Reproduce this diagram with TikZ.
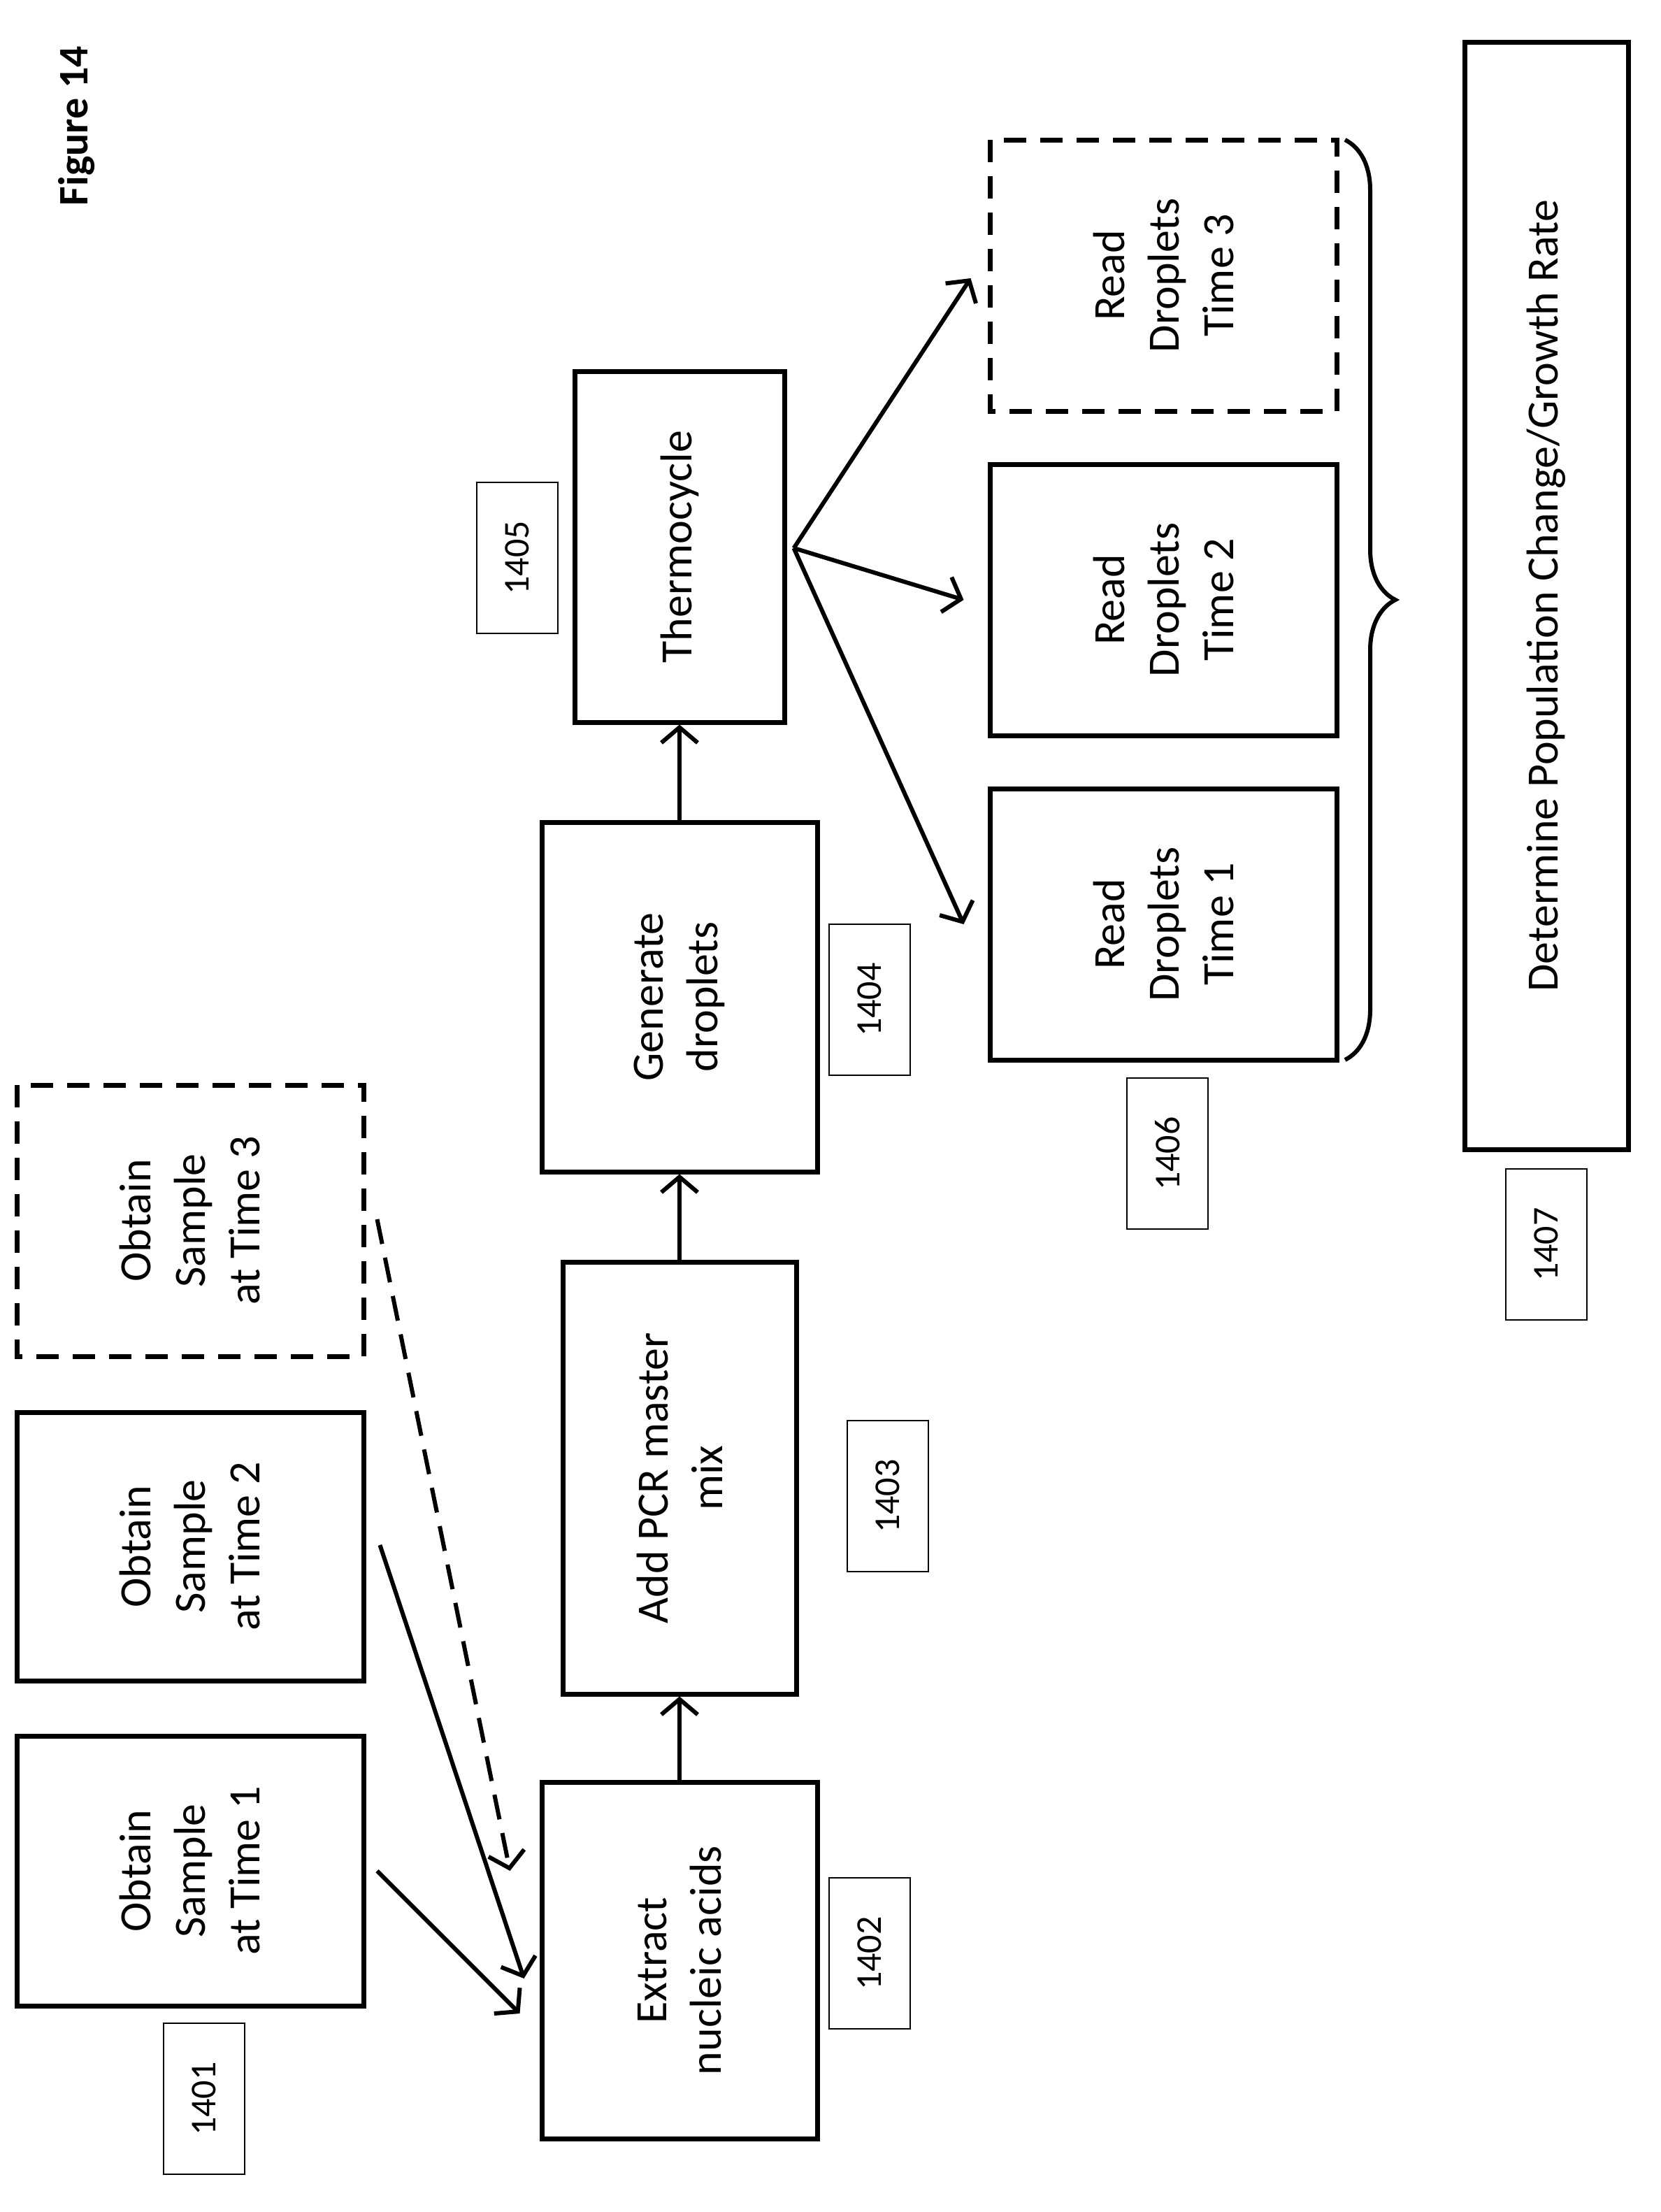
\documentclass[tikz,border=0pt]{standalone}
\usepackage{fontspec}
\setmainfont{Carlito}
\usetikzlibrary{positioning,calc,arrows.meta,decorations.pathreplacing}
\begin{document}
\begin{tikzpicture}[x=1pt,y=-1pt,
    stage/.style={rectangle, draw, line width=3.5pt, rotate=90, align=center, font=\fontsize{32}{39}\selectfont},
    tag/.style={rectangle, draw, line width=1.2pt, rotate=90, minimum width=108pt, minimum height=58pt, font=\fontsize{26}{30}\selectfont},
    flow/.style={line width=3pt, -{Straight Barb[length=11pt,width=26pt,line width=3pt]}}]

    \useasboundingbox (0,0) rectangle (1188,1582);

    \node[rotate=90, font=\fontsize{30}{34}\selectfont\bfseries] (fig) at (55,90) {Figure 14};

    %% samples
    \node[stage, minimum width=193pt, minimum height=248pt] (S1) at (136,1338) {Obtain\\Sample\\at Time 1};
    \node[stage, minimum width=192pt, minimum height=248pt] (S2) at (136,1106) {Obtain\\Sample\\at Time 2};
    \node[stage, dashed, dash pattern=on 16pt off 10pt, minimum width=194pt, minimum height=248pt] (S3) at (136,873) {Obtain\\Sample\\at Time 3};

    %% main chain
    \node[stage, minimum width=255pt, minimum height=197pt] (ext) at (486,1402) {Extract\\nucleic acids};
    \node[stage, minimum width=309pt, minimum height=167pt] (pcr) at (486,1057) {Add PCR master\\mix};
    \node[stage, minimum width=250pt, minimum height=197pt] (gen) at (486,713) {Generate\\droplets};
    \node[stage, minimum width=251pt, minimum height=150pt] (therm) at (486,391) {Thermocycle};

    %% reads
    \node[stage, minimum width=194pt, minimum height=248pt] (R1) at (832,661) {Read\\Droplets\\Time 1};
    \node[stage, minimum width=194pt, minimum height=248pt] (R2) at (832,429) {Read\\Droplets\\Time 2};
    \node[stage, dashed, dash pattern=on 16pt off 10pt, minimum width=194pt, minimum height=248pt] (R3) at (832,197) {Read\\Droplets\\Time 3};

    \node[stage, minimum width=792pt, minimum height=117pt] (det) at (1106,426) {Determine Population Change/Growth Rate};

    %% reference numerals
    \node[tag] (t1401) at (146,1501) {1401};
    \node[tag] (t1402) at (622,1397) {1402};
    \node[tag] (t1403) at (635,1070) {1403};
    \node[tag] (t1404) at (622,715) {1404};
    \node[tag] (t1405) at (370,399) {1405};
    \node[tag] (t1406) at (835,825) {1406};
    \node[tag] (t1407) at (1106,890) {1407};

    \draw[flow] ($(S1.south)+(8,0)$) -- ($(ext.north)+(-14,38)$);
    \draw[flow] ($(S2.south)+(10,-1)$) -- ($(ext.north)+(-11,13)$);
    \draw[flow, dash pattern=on 18pt off 10pt] ($(S3.south)+(8,-1)$) -- ($(ext.north)+(-21,-64)$);

    \draw[flow] (ext.east) -- (pcr.west);
    \draw[flow] (pcr.east) -- (gen.west);
    \draw[flow] (gen.east) -- (therm.west);

    \draw[flow] ($(therm.south)+(5,1)$) -- ($(R1.north)+(-17,0)$);
    \draw[flow] ($(therm.south)+(5,1)$) -- ($(R2.north)+(-17,0)$);
    \draw[flow] ($(therm.south)+(5,1)$) -- ($(R3.north)+(-12,2)$);

    \coordinate (bt) at (962,100);
    \coordinate (bb) at (962,758);
    \draw[line width=3pt, decorate, decoration={brace, amplitude=36pt}] (bt) -- (bb);

\end{tikzpicture}
\end{document}
